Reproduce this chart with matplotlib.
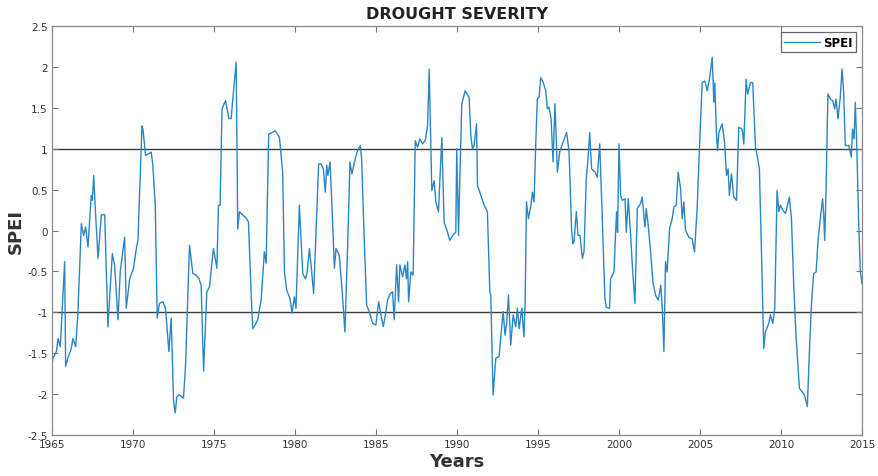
import matplotlib
matplotlib.use("Agg")
import matplotlib.pyplot as plt
from matplotlib import font_manager

# Monthly-resolution SPEI trace (decimal year, index value)
years = [
    1965.00, 1965.07, 1965.28, 1965.38, 1965.52, 1965.79, 1965.85, 1965.99, 1966.20, 1966.30,
    1966.47, 1966.60, 1966.82, 1966.96, 1967.08, 1967.23, 1967.43, 1967.50, 1967.58, 1967.70,
    1967.85, 1968.05, 1968.26, 1968.46, 1968.73, 1968.87, 1969.08, 1969.22, 1969.49, 1969.59,
    1969.80, 1970.04, 1970.21, 1970.31, 1970.56, 1970.62, 1970.78, 1970.99, 1971.13, 1971.23,
    1971.38, 1971.50, 1971.64, 1971.85, 1972.01, 1972.22, 1972.36, 1972.51, 1972.61, 1972.71,
    1972.87, 1973.12, 1973.25, 1973.49, 1973.70, 1973.90, 1974.07, 1974.21, 1974.36, 1974.56,
    1974.72, 1974.97, 1975.18, 1975.28, 1975.38, 1975.50, 1975.71, 1975.92, 1976.06, 1976.20,
    1976.37, 1976.47, 1976.57, 1976.78, 1976.98, 1977.13, 1977.29, 1977.39, 1977.54, 1977.70,
    1977.91, 1978.11, 1978.22, 1978.38, 1978.59, 1978.79, 1979.04, 1979.24, 1979.35, 1979.49,
    1979.69, 1979.82, 1979.96, 1980.06, 1980.27, 1980.48, 1980.64, 1980.74, 1980.89, 1980.99,
    1981.15, 1981.46, 1981.61, 1981.75, 1981.87, 1981.96, 1982.03, 1982.16, 1982.28, 1982.43,
    1982.53, 1982.73, 1982.90, 1983.08, 1983.25, 1983.39, 1983.51, 1983.72, 1983.86, 1984.03,
    1984.11, 1984.27, 1984.42, 1984.58, 1984.79, 1984.99, 1985.16, 1985.30, 1985.45, 1985.61,
    1985.71, 1985.88, 1986.02, 1986.12, 1986.27, 1986.39, 1986.47, 1986.64, 1986.78, 1986.88,
    1986.95, 1987.01, 1987.15, 1987.29, 1987.42, 1987.56, 1987.70, 1987.87, 1988.03, 1988.18,
    1988.28, 1988.44, 1988.59, 1988.69, 1988.85, 1989.06, 1989.20, 1989.41, 1989.55, 1989.72,
    1989.92, 1989.98, 1990.09, 1990.17, 1990.29, 1990.50, 1990.74, 1990.85, 1990.95, 1991.05,
    1991.20, 1991.26, 1991.40, 1991.67, 1991.87, 1992.02, 1992.08, 1992.22, 1992.39, 1992.59,
    1992.84, 1992.96, 1993.05, 1993.17, 1993.31, 1993.46, 1993.62, 1993.72, 1993.83, 1993.99,
    1994.13, 1994.20, 1994.28, 1994.40, 1994.54, 1994.65, 1994.75, 1994.85, 1994.95, 1995.06,
    1995.16, 1995.32, 1995.47, 1995.57, 1995.67, 1995.80, 1995.92, 1996.04, 1996.19, 1996.33,
    1996.50, 1996.76, 1996.91, 1997.07, 1997.15, 1997.21, 1997.36, 1997.46, 1997.58, 1997.73,
    1997.83, 1997.97, 1998.08, 1998.18, 1998.30, 1998.51, 1998.65, 1998.80, 1998.96, 1999.12,
    1999.21, 1999.41, 1999.47, 1999.68, 1999.78, 1999.84, 1999.90, 1999.99, 2000.09, 2000.19,
    2000.36, 2000.44, 2000.56, 2000.71, 2000.81, 2000.97, 2001.12, 2001.32, 2001.42, 2001.59,
    2001.67, 2001.79, 2001.94, 2002.08, 2002.25, 2002.41, 2002.57, 2002.66, 2002.76, 2002.86,
    2002.96, 2003.11, 2003.27, 2003.38, 2003.52, 2003.64, 2003.79, 2003.89, 2003.99, 2004.09,
    2004.30, 2004.50, 2004.65, 2004.81, 2004.96, 2005.12, 2005.29, 2005.43, 2005.57, 2005.74,
    2005.84, 2005.90, 2006.00, 2006.07, 2006.15, 2006.35, 2006.50, 2006.62, 2006.72, 2006.80,
    2006.93, 2007.07, 2007.24, 2007.38, 2007.59, 2007.69, 2007.83, 2007.93, 2008.10, 2008.24,
    2008.41, 2008.51, 2008.65, 2008.78, 2008.92, 2009.02, 2009.23, 2009.33, 2009.48, 2009.60,
    2009.74, 2009.85, 2009.95, 2010.09, 2010.26, 2010.36, 2010.50, 2010.63, 2010.77, 2010.91,
    2011.12, 2011.28, 2011.43, 2011.53, 2011.61, 2011.73, 2011.86, 2012.00, 2012.15, 2012.27,
    2012.41, 2012.55, 2012.62, 2012.68, 2012.76, 2012.88, 2013.03, 2013.17, 2013.30, 2013.38,
    2013.50, 2013.64, 2013.75, 2013.85, 2013.95, 2014.16, 2014.32, 2014.40, 2014.49, 2014.57,
    2014.67, 2014.77, 2014.88, 2014.98,
]

spei = [
    -1.64, -1.56, -1.48, -1.32, -1.42, -0.38, -1.66, -1.56, -1.44, -1.32,
    -1.42, -1.03, 0.085, -0.06, 0.045, -0.20, 0.43, 0.37, 0.675, 0.19,
    -0.34, 0.19, 0.195, -1.18, -0.28, -0.42, -1.09, -0.50, -0.08, -0.95,
    -0.59, -0.46, -0.22, -0.12, 1.28, 1.24, 0.92, 0.94, 0.96, 0.80,
    0.31, -1.07, -0.89, -0.87, -0.95, -1.48, -1.07, -2.09, -2.23, -2.03,
    -2.01, -2.05, -1.64, -0.18, -0.525, -0.545, -0.585, -0.67, -1.72, -0.75,
    -0.69, -0.22, -0.46, 0.31, 0.31, 1.49, 1.59, 1.37, 1.37, 1.69,
    2.06, 0.02, 0.23, 0.19, 0.155, 0.105, -0.75, -1.20, -1.155, -1.09,
    -0.85, -0.26, -0.40, 1.18, 1.20, 1.22, 1.14, 0.715, -0.505, -0.73,
    -0.83, -1.01, -0.81, -0.95, 0.31, -0.525, -0.59, -0.525, -0.22, -0.42,
    -0.77, 0.815, 0.815, 0.755, 0.47, 0.80, 0.675, 0.84, 0.31, -0.46,
    -0.22, -0.30, -0.71, -1.24, -0.18, 0.84, 0.695, 0.88, 0.98, 1.04,
    0.88, -0.10, -0.91, -0.99, -1.135, -1.155, -0.87, -1.03, -1.175, -0.99,
    -0.85, -0.77, -0.75, -1.09, -0.42, -0.87, -0.42, -0.565, -0.42, -0.59,
    -0.38, -0.87, -0.505, -0.545, 1.10, 1.02, 1.12, 1.06, 1.10, 1.28,
    1.975, 0.49, 0.61, 0.35, 0.23, 1.14, 0.105, -0.02, -0.12, -0.06,
    -0.02, 1.00, -0.06, 0.655, 1.55, 1.71, 1.63, 1.16, 1.00, 1.04,
    1.305, 0.55, 0.47, 0.31, 0.23, -0.75, -0.79, -2.01, -1.56, -1.54,
    -0.99, -1.28, -1.155, -0.79, -1.40, -1.03, -1.175, -0.95, -1.20, -0.95,
    -1.30, -0.87, 0.35, 0.145, 0.29, 0.47, 0.35, 1.04, 1.61, 1.63,
    1.87, 1.81, 1.71, 1.49, 1.51, 1.365, 0.84, 1.55, 0.715, 0.96,
    1.06, 1.20, 0.96, -0.02, -0.16, -0.14, 0.23, -0.06, -0.06, -0.34,
    -0.26, 0.635, 0.88, 1.20, 0.755, 0.715, 0.655, 1.06, 0.145, -0.83,
    -0.94, -0.95, -0.59, -0.505, -0.02, 0.23, -0.02, 1.06, 0.43, 0.37,
    0.39, -0.02, 0.39, -0.06, -0.42, -0.89, 0.27, 0.33, 0.41, 0.045,
    0.27, 0.065, -0.26, -0.63, -0.79, -0.85, -0.67, -0.95, -1.48, -0.38,
    -0.505, 0.025, 0.145, 0.29, 0.31, 0.715, 0.51, 0.145, 0.35, 0.005,
    -0.08, -0.10, -0.26, 0.27, 1.04, 1.81, 1.83, 1.71, 1.85, 2.12,
    1.57, 1.81, 1.20, 0.98, 1.20, 1.305, 1.08, 0.675, 0.755, 0.43,
    0.695, 0.41, 0.37, 1.265, 1.24, 1.06, 1.85, 1.67, 1.81, 1.81,
    1.02, 0.92, 0.755, -0.26, -1.44, -1.24, -1.135, -1.03, -1.135, -0.95,
    0.49, 0.23, 0.31, 0.25, 0.21, 0.29, 0.41, 0.145, -0.67, -1.28,
    -1.93, -1.97, -2.01, -2.09, -2.15, -1.52, -0.91, -0.525, -0.505, -0.12,
    0.145, 0.39, 0.19, -0.12, 0.47, 1.67, 1.61, 1.59, 1.49, 1.61,
    1.365, 1.63, 1.975, 1.69, 1.04, 1.04, 0.90, 1.24, 1.12, 1.57,
    0.96, 0.145, -0.505, -0.65,
]

year_ticks = list(range(1965, 2016, 5))
spei_ticks = [-2.5, -2, -1.5, -1, -0.5, 0, 0.5, 1, 1.5, 2, 2.5]
thresholds = [1, -1]

installed = {f.name for f in font_manager.fontManager.ttflist}
tick_family = "Liberation Sans Narrow" if "Liberation Sans Narrow" in installed else "DejaVu Sans"

fig = plt.figure(figsize=(8.79, 4.77), dpi=100)
ax = fig.add_axes([0.059, 0.086, 0.922, 0.857])

ax.plot(years, spei, color="#2a86c4", linewidth=1.0, label="SPEI")
for t in thresholds:
    ax.axhline(t, color="#3a3a3a", linewidth=1.0, zorder=1)

ax.set_xlim(1965, 2015)
ax.set_ylim(-2.5, 2.5)
ax.set_xticks(year_ticks)
ax.set_yticks(spei_ticks)
ax.set_xticklabels([str(y) for y in year_ticks])
ax.set_yticklabels([f"{v:g}" for v in spei_ticks])

ax.tick_params(direction="in", top=True, right=True, length=4, width=0.8,
               color="#777777", labelsize=7.5, labelcolor="#333333", pad=3)
for lbl in ax.get_xticklabels() + ax.get_yticklabels():
    lbl.set_family(tick_family)
for s in ax.spines.values():
    s.set_color("#8a8a8a")
    s.set_linewidth(0.9)

ax.set_title("DROUGHT SEVERITY", fontsize=11.5, fontweight="bold", color="#222222", pad=6)
ax.set_xlabel("Years", fontsize=13, fontweight="bold", color="#333333", labelpad=2)
ax.set_ylabel("SPEI", fontsize=13, fontweight="bold", color="#333333")
ax.yaxis.set_label_coords(-0.034, 0.5)

leg = ax.legend(loc="upper right", fontsize=8.5, frameon=True, fancybox=False,
                handlelength=3.0, borderpad=0.3, borderaxespad=0.5, handletextpad=0.3)
leg.get_frame().set_edgecolor("#444444")
leg.get_frame().set_linewidth(0.9)
for txt in leg.get_texts():
    txt.set_fontweight("bold")

fig.savefig("out.png", dpi=100)
